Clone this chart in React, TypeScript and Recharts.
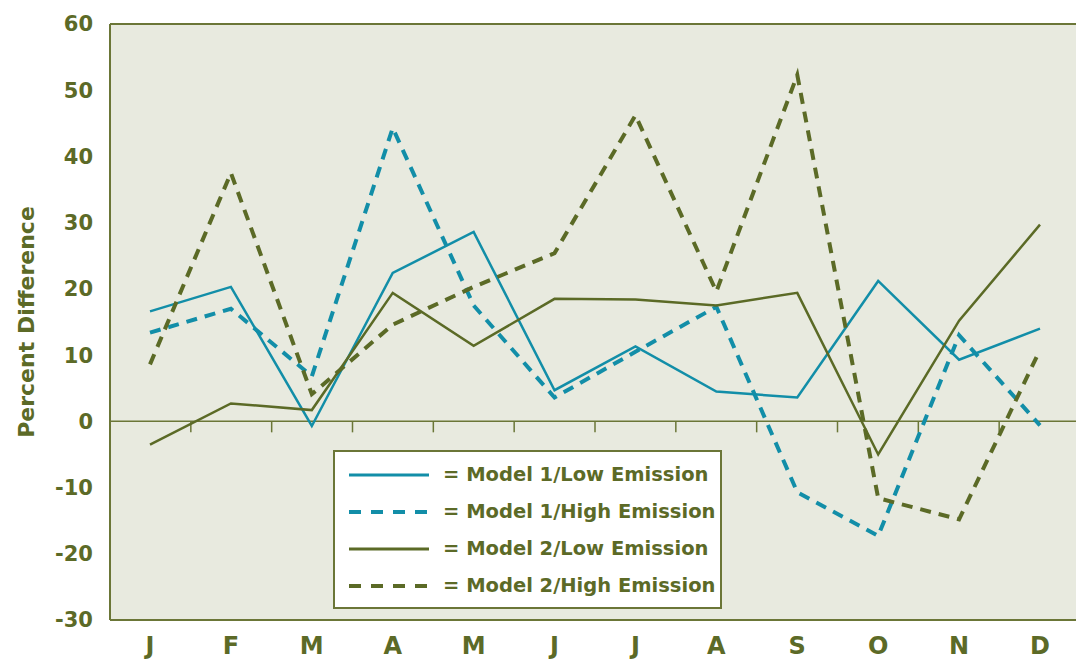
import { LineChart, Line, XAxis, YAxis, ReferenceLine, CartesianGrid } from "recharts";

const months = ["J", "F", "M", "A", "M", "J", "J", "A", "S", "O", "N", "D"];
const m1Low = [16.6, 20.3, -0.7, 22.4, 28.6, 4.7, 11.3, 4.5, 3.6, 21.2, 9.3, 14.0];
const m1High = [13.4, 17.0, 6.8, 44.3, 17.5, 3.6, 10.5, 17.3, -10.7, -17.3, 13.0, -0.6];
const m2Low = [-3.5, 2.7, 1.7, 19.4, 11.4, 18.5, 18.4, 17.5, 19.4, -5.0, 15.2, 29.7];
const m2High = [8.6, 37.5, 4.1, 14.6, 20.3, 25.4, 46.2, 19.6, 52.3, -11.6, -14.8, 10.8];
const yTicks = [-30, -20, -10, 0, 10, 20, 30, 40, 50, 60];

const TEAL = "#128ea8";
const OLIVE = "#5b6a26";
const TEXT = "#5c6a27";
const BORDER = "#6b7637";
const PLOT_BG = "#e8eadf";
const FONT = "'DejaVu Sans', sans-serif";

const series = [
  { key: "m1Low", name: "Model 1/Low Emission", color: TEAL, dash: undefined, width: 2.5 },
  { key: "m1High", name: "Model 1/High Emission", color: TEAL, dash: "11 8", width: 4 },
  { key: "m2Low", name: "Model 2/Low Emission", color: OLIVE, dash: undefined, width: 2.5 },
  { key: "m2High", name: "Model 2/High Emission", color: OLIVE, dash: "11 8", width: 4 },
];

const data = months.map((m, i) => ({
  month: m,
  m1Low: m1Low[i],
  m1High: m1High[i],
  m2Low: m2Low[i],
  m2High: m2High[i],
}));

// zero line with the small marks between months hanging below it
function ZeroLine(props: any) {
  const { x1, x2, y1 } = props;
  const step = (x2 - x1) / months.length;
  return (
    <g>
      <line x1={x1} y1={y1} x2={x2} y2={y1} stroke={BORDER} strokeWidth={1.5} />
      {months.slice(1).map((_, i) => {
        const x = x1 + step * (i + 1);
        return <line key={i} x1={x} y1={y1} x2={x} y2={y1 + 11} stroke={BORDER} strokeWidth={1.5} />;
      })}
    </g>
  );
}

function LegendBox() {
  return (
    <div
      style={{
        position: "absolute",
        left: 333,
        top: 450,
        width: 389,
        height: 159,
        boxSizing: "border-box",
        background: "#ffffff",
        border: `2px solid ${BORDER}`,
        padding: "4px 0 0 14px",
      }}
    >
      {series.map((s) => (
        <div key={s.key} style={{ display: "flex", alignItems: "center", height: 37 }}>
          <svg width={80} height={10} style={{ marginRight: 14 }}>
            <line
              x1={0}
              y1={5}
              x2={80}
              y2={5}
              stroke={s.color}
              strokeWidth={s.dash ? 4 : 3}
              strokeDasharray={s.dash ? "12 10" : undefined}
            />
          </svg>
          <span
            style={{
              fontFamily: FONT,
              fontWeight: "bold",
              fontSize: 19.5,
              color: TEXT,
              whiteSpace: "nowrap",
            }}
          >
            = {s.name}
          </span>
        </div>
      ))}
    </div>
  );
}

export default function App() {
  return (
    <div style={{ position: "absolute", left: 0, top: 0, width: 1076, height: 661, overflow: "hidden", background: "#fff" }}>
      <LineChart width={1080} height={661} data={data} margin={{ top: 24, right: 0, bottom: 0, left: 0 }}>
        <CartesianGrid
          fill={PLOT_BG}
          fillOpacity={1}
          stroke={BORDER}
          strokeWidth={2}
          horizontalCoordinatesGenerator={({ offset }: any) => [offset.top, offset.top + offset.height]}
          verticalCoordinatesGenerator={({ offset }: any) => [offset.left, offset.left + offset.width]}
        />
        <XAxis
          dataKey="month"
          padding={{ left: 40, right: 40 }}
          axisLine={false}
          tickLine={false}
          tickSize={0}
          tickMargin={17}
          height={41}
          interval={0}
          tick={{ fill: TEXT, fontSize: 24, fontWeight: "bold", fontFamily: FONT }}
        />
        <YAxis
          width={110}
          domain={[-30, 60]}
          ticks={yTicks}
          interval={0}
          axisLine={false}
          tickLine={false}
          tickSize={0}
          tickMargin={17}
          tick={{ fill: TEXT, fontSize: 21, fontWeight: "bold", fontFamily: FONT }}
          label={{
            value: "Percent Difference",
            angle: -90,
            position: "center",
            dx: -29,
            style: { fill: TEXT, fontSize: 22, fontWeight: "bold", fontFamily: FONT },
          }}
        />
        <ReferenceLine y={0} shape={ZeroLine} />
        {series.map((s) => (
          <Line
            key={s.key}
            type="linear"
            dataKey={s.key}
            name={s.name}
            stroke={s.color}
            strokeWidth={s.width}
            strokeDasharray={s.dash}
            dot={false}
            activeDot={false}
            isAnimationActive={false}
          />
        ))}
      </LineChart>
      <LegendBox />
    </div>
  );
}
